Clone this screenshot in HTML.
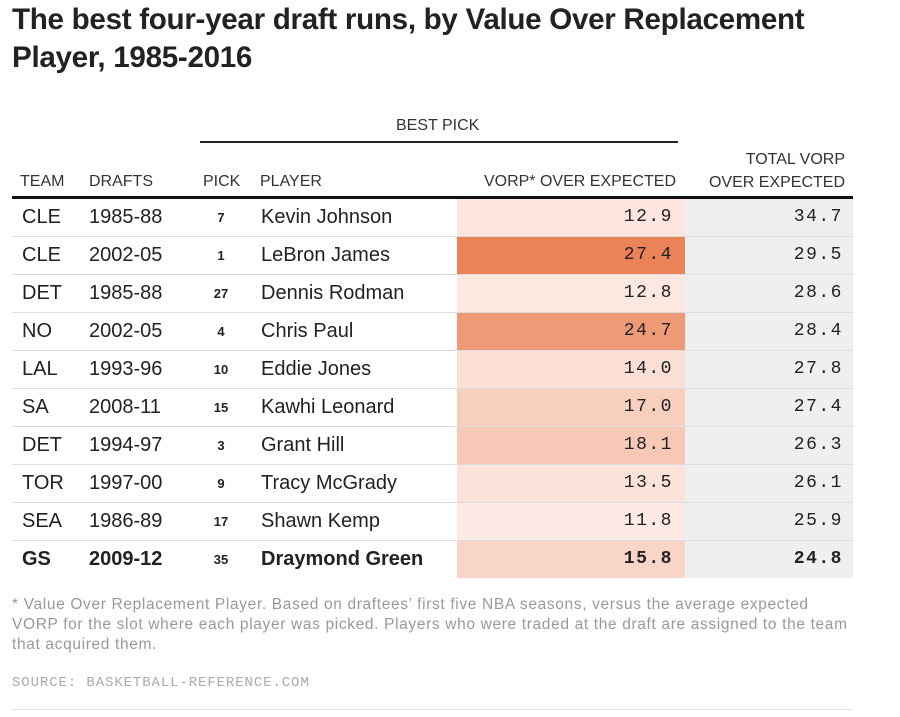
<!DOCTYPE html>
<html><head><meta charset="utf-8"><style>
body{margin:0;width:900px;height:717px;background:#fff;font-family:"Liberation Sans",sans-serif;color:#222;position:relative;overflow:hidden}
.t{position:absolute;left:12px;top:1px;font-size:29.6px;font-weight:bold;line-height:38px;color:#222;letter-spacing:-0.3px}
.a{position:absolute;white-space:nowrap}
.h{font-size:16px;color:#333}
.row{position:absolute;left:12px;width:841px;height:37px;border-bottom:1px solid #ddd}
.row div{position:absolute;top:0;line-height:37px;font-size:20px;white-space:nowrap}
.c1{left:10px}.c2{left:77px}.c3{left:190px;width:38px;text-align:center;font-size:13px!important;font-weight:bold}
.c4{left:249px}
.v{left:445px;width:228px;height:37px;text-align:right;box-sizing:border-box;padding-right:12px;font-family:"Liberation Mono",monospace;font-size:18px!important;letter-spacing:1.5px}
.w{left:673px;width:168px;height:37px;text-align:right;box-sizing:border-box;padding-right:10px;background:#efefef;font-family:"Liberation Mono",monospace;font-size:18px!important;letter-spacing:1.5px}
.b div{font-weight:bold}
</style></head><body>
<div class="t">The best four-year draft runs, by Value Over Replacement<br>Player, 1985-2016</div>
<div class="a h" style="left:396px;top:117px">BEST PICK</div>
<div class="a" style="left:200px;top:141px;width:478px;height:2px;background:#222"></div>
<div class="a h" style="left:20px;top:173px">TEAM</div>
<div class="a h" style="left:89px;top:173px">DRAFTS</div>
<div class="a h" style="left:203px;top:173px">PICK</div>
<div class="a h" style="left:260px;top:173px">PLAYER</div>
<div class="a h" style="left:470px;top:173px;width:206px;text-align:right">VORP* OVER EXPECTED</div>
<div class="a h" style="left:690px;top:148px;width:155px;text-align:right;line-height:23px">TOTAL VORP<br>OVER EXPECTED</div>
<div class="a" style="left:12px;top:196px;width:841px;height:3px;background:#111"></div>

<div class="row" style="top:199px"><div class="c1">CLE</div><div class="c2">1985-88</div><div class="c3">7</div><div class="c4">Kevin Johnson</div><div class="v" style="background:#fce6df">12.9</div><div class="w">34.7</div></div>
<div class="row" style="top:237px"><div class="c1">CLE</div><div class="c2">2002-05</div><div class="c3">1</div><div class="c4">LeBron James</div><div class="v" style="background:#ec8258">27.4</div><div class="w">29.5</div></div>
<div class="row" style="top:275px"><div class="c1">DET</div><div class="c2">1985-88</div><div class="c3">27</div><div class="c4">Dennis Rodman</div><div class="v" style="background:#fce7e1">12.8</div><div class="w">28.6</div></div>
<div class="row" style="top:313px"><div class="c1">NO</div><div class="c2">2002-05</div><div class="c3">4</div><div class="c4">Chris Paul</div><div class="v" style="background:#ef9a77">24.7</div><div class="w">28.4</div></div>
<div class="row" style="top:351px"><div class="c1">LAL</div><div class="c2">1993-96</div><div class="c3">10</div><div class="c4">Eddie Jones</div><div class="v" style="background:#fbdfd5">14.0</div><div class="w">27.8</div></div>
<div class="row" style="top:389px"><div class="c1">SA</div><div class="c2">2008-11</div><div class="c3">15</div><div class="c4">Kawhi Leonard</div><div class="v" style="background:#f8cebd">17.0</div><div class="w">27.4</div></div>
<div class="row" style="top:427px"><div class="c1">DET</div><div class="c2">1994-97</div><div class="c3">3</div><div class="c4">Grant Hill</div><div class="v" style="background:#f7c8b5">18.1</div><div class="w">26.3</div></div>
<div class="row" style="top:465px"><div class="c1">TOR</div><div class="c2">1997-00</div><div class="c3">9</div><div class="c4">Tracy McGrady</div><div class="v" style="background:#fce3da">13.5</div><div class="w">26.1</div></div>
<div class="row" style="top:503px"><div class="c1">SEA</div><div class="c2">1986-89</div><div class="c3">17</div><div class="c4">Shawn Kemp</div><div class="v" style="background:#fdeae4">11.8</div><div class="w">25.9</div></div>
<div class="row b" style="top:541px;border-bottom:none"><div class="c1">GS</div><div class="c2">2009-12</div><div class="c3">35</div><div class="c4">Draymond Green</div><div class="v" style="background:#f9d5c7">15.8</div><div class="w">24.8</div></div>

<div class="a" style="left:12px;top:595px;font-size:15.5px;line-height:20px;color:#999;letter-spacing:0.65px">* Value Over Replacement Player. Based on draftees’ first five NBA seasons, versus the average expected<br>VORP for the slot where each player was picked. Players who were traded at the draft are assigned to the team<br>that acquired them.</div>
<div class="a" style="left:12px;top:675px;font-family:'Liberation Mono',monospace;font-size:14px;letter-spacing:0.9px;color:#aaa">SOURCE: BASKETBALL-REFERENCE.COM</div>
<div class="a" style="left:12px;top:709px;width:841px;height:1px;background:#e4e4e4"></div>
</body></html>
